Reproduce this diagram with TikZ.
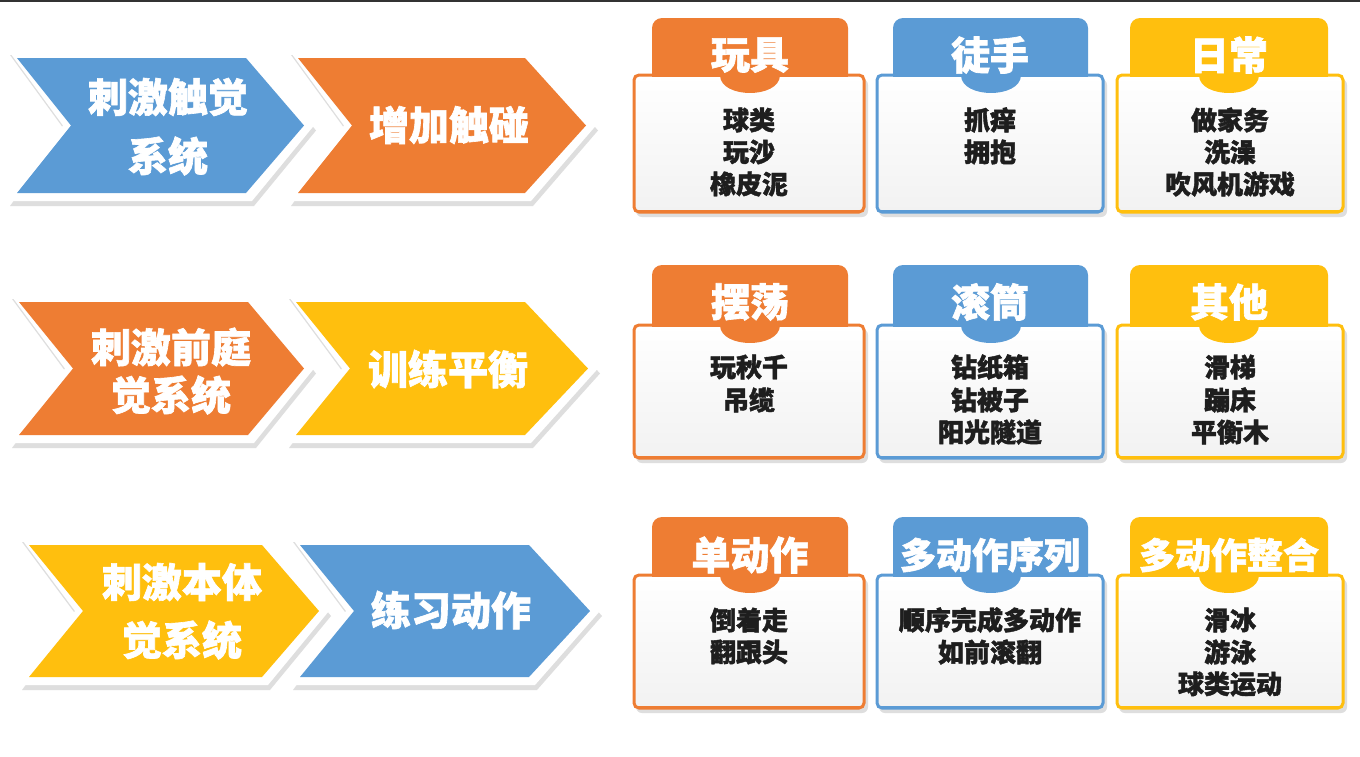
\documentclass[tikz,border=0pt]{standalone}
\usepackage{fontspec}
\setmainfont{Noto Sans CJK SC}[BoldFeatures={FakeBold=1.6}]
\definecolor{cblue}{HTML}{5B9BD5}
\definecolor{corange}{HTML}{EE7D33}
\definecolor{cyellow}{HTML}{FFBF0E}
\definecolor{ctext}{HTML}{1E1E1E}
\definecolor{cshade}{HTML}{DEDEDE}
\definecolor{cbody}{HTML}{F2F2F2}
\definecolor{ctop}{HTML}{333333}
\tikzset{
  chevtxt/.style={text=white, font=\bfseries\fontsize{40}{40}\selectfont, inner sep=0pt},
  tabtxt/.style={text=white, font=\bfseries\fontsize{39}{39}\selectfont, inner sep=0pt},
  tabtxtsm/.style={text=white, font=\bfseries\fontsize{36}{36}\selectfont, inner sep=0pt},
  bodytxt/.style={text=ctext, font=\bfseries\fontsize{26}{26}\selectfont, inner sep=0pt},
}
% chevron: #1 x0, #2 x1 (shoulder), #3 xtip, #4 ytop, #5 ybot, #6 notch depth, #7 colour
\newcommand{\mychev}[7]{%
  \pgfmathsetmacro\yc{(#4+#5)/2}%
  \pgfmathsetmacro\xn{#1+#6}%
  \fill[cshade] ([shift={(2,5)}]#1-9,#4-8) -- ([shift={(2,5)}]#2+6,#4-8) -- ([shift={(2,5)}]#3+10,\yc)
     -- ([shift={(2,5)}]#2+6,#5+8) -- ([shift={(2,5)}]#1-9,#5+8) -- ([shift={(2,5)}]\xn-8,\yc) -- cycle;
  \fill[white] (#1-9,#4-8) -- (#2+6,#4-8) -- (#3+10,\yc) -- (#2+6,#5+8) -- (#1-9,#5+8) -- (\xn-8,\yc) -- cycle;
  \fill[#7] (#1,#4) -- (#2,#4) -- (#3,\yc) -- (#2,#5) -- (#1,#5) -- (\xn,\yc) -- cycle;
}
% card: #1 xl, #2 xr, #3 tab left, #4 tab right, #5 tab top, #6 body top, #7 body bottom, #8 colour
\newcommand{\mycard}[8]{%
  \pgfmathsetmacro\cx{(#3+#4)/2}%
  \fill[cshade, rounded corners=6pt] (#1+2,#6+4) rectangle (#2+4,#7+5);
  \fill[#8, rounded corners=10pt] (#3,#5) rectangle (#4,#6+12);
  \draw[#8, line width=3pt, top color=white, bottom color=cbody, rounded corners=5pt] (#1,#6) rectangle (#2,#7);
  \draw[#8, line width=2pt, line cap=round] (#1+4,#7-1.5) -- (#2-4,#7-1.5);
  \fill[#8] (#3,#6-3) rectangle (#4,#6+1.5);
  \fill[#8] (\cx-30,#6) .. controls (\cx-30,#6+24) and (\cx+30,#6+24) .. (\cx+30,#6) -- cycle;
}
\begin{document}
\begin{tikzpicture}[x=1pt,y=-1pt]
\useasboundingbox (0,0) rectangle (1360,756);
\fill[white] (0,0) rectangle (1360,756);
\draw[ctop, line width=1.6pt] (0,0.8) -- (1360,0.8);

% ---------- chevrons ----------
\mychev{17}{246}{304}{58}{193}{54}{cblue}
\mychev{298}{525}{586}{58}{193}{54}{corange}
\mychev{19}{248}{304}{302}{435}{54}{corange}
\mychev{296}{525}{588}{302}{435}{54}{cyellow}
\mychev{29}{262}{319}{545}{677}{54}{cyellow}
\mychev{300}{529}{590}{545}{677}{54}{cblue}

\node[chevtxt] (a1) at (168,97) {刺激触觉};
\node[chevtxt] (a2) at (168,156) {系统};
\node[chevtxt] (b1) at (449,125) {增加触碰};
\node[chevtxt] (c1) at (171,347) {刺激前庭};
\node[chevtxt] (c2) at (171,395) {觉系统};
\node[chevtxt] (d1) at (448,369) {训练平衡};
\node[chevtxt] (e1) at (182,582) {刺激本体};
\node[chevtxt] (e2) at (182,640) {觉系统};
\node[chevtxt] (f1) at (451,610) {练习动作};

% ---------- cards ----------
\mycard{634}{864}{652}{848}{18}{75}{212}{corange}
\mycard{877}{1103}{893}{1088}{18}{75}{212}{cblue}
\mycard{1117}{1343}{1130}{1328}{18}{75}{212}{cyellow}
\mycard{634}{864}{652}{848}{265}{325}{458}{corange}
\mycard{877}{1103}{893}{1088}{265}{325}{458}{cblue}
\mycard{1117}{1343}{1130}{1328}{265}{325}{458}{cyellow}
\mycard{634}{864}{652}{848}{517}{575}{708}{corange}
\mycard{877}{1103}{893}{1088}{517}{575}{708}{cblue}
\mycard{1117}{1343}{1130}{1328}{517}{575}{708}{cyellow}

% row 1
\node[tabtxt] (t11) at (750,55) {玩具};
\node[bodytxt] (l111) at (749,120) {球类};
\node[bodytxt] (l112) at (749,152) {玩沙};
\node[bodytxt] (l113) at (749,184) {橡皮泥};
\node[tabtxt] (t12) at (990,55) {徒手};
\node[bodytxt] (l121) at (990,120) {抓痒};
\node[bodytxt] (l122) at (990,152) {拥抱};
\node[tabtxt] (t13) at (1229,55) {日常};
\node[bodytxt] (l131) at (1230,120) {做家务};
\node[bodytxt] (l132) at (1230,152) {洗澡};
\node[bodytxt] (l133) at (1230,184) {吹风机游戏};
% row 2
\node[tabtxt] (t21) at (750,302) {摆荡};
\node[bodytxt] (l211) at (749,367) {玩秋千};
\node[bodytxt] (l212) at (749,400) {吊缆};
\node[tabtxt] (t22) at (990,302) {滚筒};
\node[bodytxt] (l221) at (990,367) {钻纸箱};
\node[bodytxt] (l222) at (990,400) {钻被子};
\node[bodytxt] (l223) at (990,432) {阳光隧道};
\node[tabtxt] (t23) at (1229,302) {其他};
\node[bodytxt] (l231) at (1230,367) {滑梯};
\node[bodytxt] (l232) at (1230,400) {蹦床};
\node[bodytxt] (l233) at (1230,432) {平衡木};
% row 3
\node[tabtxt] (t31) at (750,555) {单动作};
\node[bodytxt] (l311) at (749,620) {倒着走};
\node[bodytxt] (l312) at (749,652) {翻跟头};
\node[tabtxtsm] (t32) at (990,555) {多动作序列};
\node[bodytxt] (l321) at (990,620) {顺序完成多动作};
\node[bodytxt] (l322) at (990,652) {如前滚翻};
\node[tabtxtsm] (t33) at (1229,555) {多动作整合};
\node[bodytxt] (l331) at (1230,620) {滑冰};
\node[bodytxt] (l332) at (1230,652) {游泳};
\node[bodytxt] (l333) at (1230,684) {球类运动};
\end{tikzpicture}
\end{document}
